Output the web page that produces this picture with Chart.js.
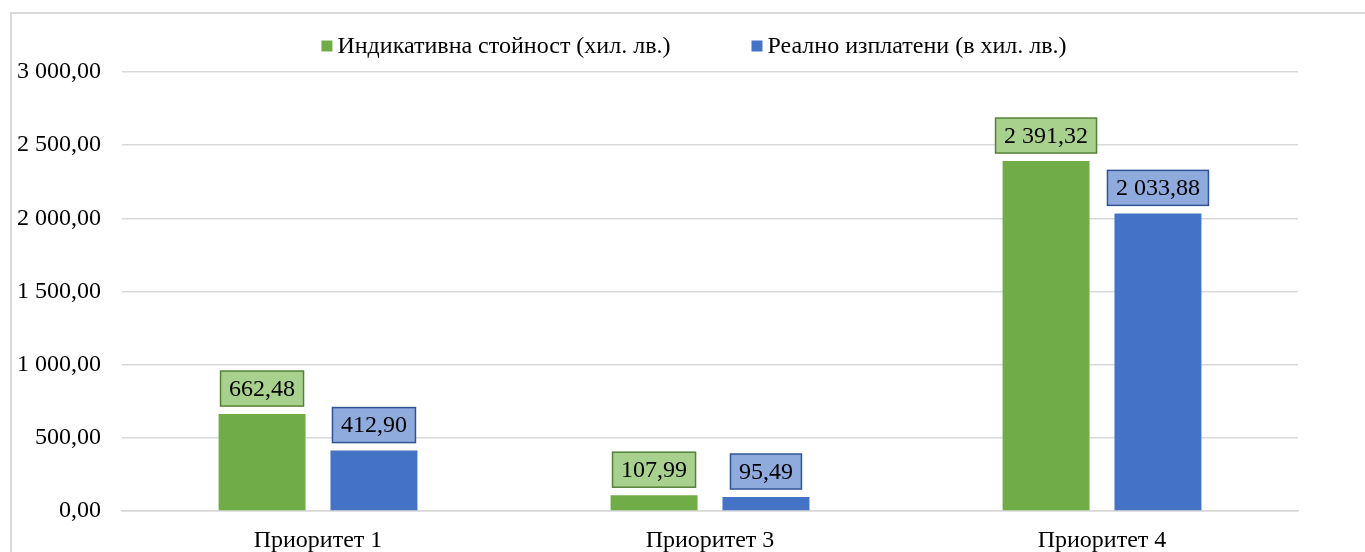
<!DOCTYPE html>
<html>
<head>
<meta charset="utf-8">
<script src="https://cdn.jsdelivr.net/npm/chart.js@4.4.0/dist/chart.umd.min.js"></script>
<style>
    body { margin: 0; background: #fff; font-family: 'Liberation Serif', serif; }
    #frame { position: absolute; left: 10px; top: 12px; width: 1400px; height: 600px; border: 2px solid #d9d9d9; box-sizing: border-box; }
    #wrap { position: absolute; left: 0; top: 0; width: 1365px; height: 552px; }
</style>
</head>
<body>
<div id="frame"></div>
<div id="wrap"><canvas id="chart"></canvas></div>
<script>
// ====== Data ======
const categories = ['Приоритет 1', 'Приоритет 3', 'Приоритет 4'];
const indicativeValues = [662.48, 107.99, 2391.32];
const paidValues = [412.90, 95.49, 2033.88];
const seriesNames = ['Индикативна стойност (хил. лв.)', 'Реално изплатени (в хил. лв.)'];
const yTicks = [0, 500, 1000, 1500, 2000, 2500, 3000];

const FONT = "'Liberation Serif', 'Times New Roman', serif";
const barColors = ['#70ad47', '#4472c4'];
const boxFills = ['#a9d18e', '#8faadc'];
const boxBorders = ['#548235', '#2f5597'];

// bulgarian style number: "2 391,32"
function fmt(v) {
    const parts = Number(v).toFixed(2).split('.');
    const intPart = parts[0].replace(/\B(?=(\d{3})+(?!\d))/g, ' ');
    return intPart + ',' + parts[1];
}

// value boxes above the bars
const valueBoxes = {
    id: 'valueBoxes',
    afterDatasetsDraw(chart) {
        const ctx = chart.ctx;
        ctx.save();
        ctx.font = '24px ' + FONT;
        ctx.textAlign = 'center';
        ctx.textBaseline = 'middle';
        chart.data.datasets.forEach((ds, i) => {
            const meta = chart.getDatasetMeta(i);
            meta.data.forEach((bar, j) => {
                const txt = fmt(ds.data[j]);
                const w = ctx.measureText(txt).width + 17;
                const h = 35;
                const bottom = bar.y - 8;
                ctx.fillStyle = boxFills[i];
                ctx.fillRect(bar.x - w / 2, bottom - h, w, h);
                ctx.lineWidth = 1.5;
                ctx.strokeStyle = boxBorders[i];
                ctx.strokeRect(bar.x - w / 2, bottom - h, w, h);
                ctx.fillStyle = '#000';
                ctx.fillText(txt, bar.x, bottom - h / 2 + 1);
            });
        });
        ctx.restore();
    }
};

// legend drawn by hand so the gap between items can be wide
const topLegend = {
    id: 'topLegend',
    afterDraw(chart) {
        const ctx = chart.ctx;
        ctx.save();
        ctx.font = '24px ' + FONT;
        ctx.textBaseline = 'middle';
        ctx.textAlign = 'left';
        const box = 11, gap = 5, itemGap = 81;
        const widths = seriesNames.map(n => ctx.measureText(n).width);
        const total = widths.reduce((a, b) => a + b, 0) + seriesNames.length * (box + gap) + itemGap * (seriesNames.length - 1);
        let x = 694 - total / 2;
        const y = 46;
        seriesNames.forEach((name, i) => {
            ctx.fillStyle = barColors[i];
            ctx.fillRect(x, y - box / 2, box, box);
            x += box + gap;
            ctx.fillStyle = '#000';
            ctx.fillText(name, x, y + 1);
            x += widths[i] + itemGap;
        });
        ctx.restore();
    }
};

function drawChart() {
    const ctx = document.getElementById('chart').getContext('2d');
    new Chart(ctx, {
        type: 'bar',
        data: {
            labels: categories,
            datasets: [
                { label: seriesNames[0], data: indicativeValues, backgroundColor: barColors[0], categoryPercentage: 0.571, barPercentage: 0.777 },
                { label: seriesNames[1], data: paidValues, backgroundColor: barColors[1], categoryPercentage: 0.571, barPercentage: 0.777 }
            ]
        },
        options: {
            responsive: true,
            maintainAspectRatio: false,
            devicePixelRatio: 1,
            animation: false,
            layout: { padding: { top: 72, right: 67, left: 0, bottom: 0 } },
            plugins: {
                legend: { display: false },
                tooltip: { enabled: false }
            },
            scales: {
                y: {
                    min: 0,
                    max: 3000,
                    afterBuildTicks: (scale) => { scale.ticks = yTicks.map(v => ({ value: v })); },
                    afterFit: (scale) => { scale.width = 122; },
                    ticks: {
                        callback: (v) => fmt(v),
                        font: { family: FONT, size: 24 },
                        color: '#000',
                        padding: 21
                    },
                    grid: { color: '#d9d9d9', lineWidth: 1.5, drawTicks: false },
                    border: { display: false }
                },
                x: {
                    afterFit: (scale) => { scale.height = 41; },
                    grid: { display: false, drawTicks: false },
                    border: { display: true, color: '#d9d9d9', width: 1.5 },
                    ticks: {
                        font: { family: FONT, size: 24 },
                        color: '#000',
                        padding: 15
                    }
                }
            }
        },
        plugins: [valueBoxes, topLegend]
    });
}

// make sure the serif font is ready before the canvas is painted
document.fonts.load("24px 'Liberation Serif'").then(drawChart, drawChart);
</script>
</body>
</html>
